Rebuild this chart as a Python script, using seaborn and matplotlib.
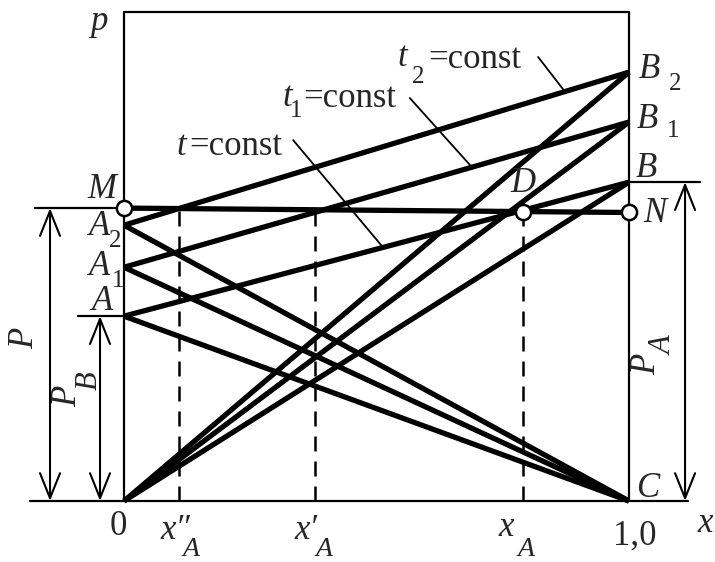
import matplotlib
matplotlib.use("Agg")
import matplotlib.pyplot as plt
import matplotlib.transforms as mtransforms
import pandas as pd
import seaborn as sns

# Pressure levels (fraction of frame height) on the pure-B side (x = 0)
# and on the pure-A side (x = 1) for the three temperatures t, t1, t2.
level_names = ["", "1", "2"]
p_left = [0.378, 0.478, 0.564]     # A, A1, A2
p_right = [0.652, 0.775, 0.877]    # B, B1, B2
# Total pressure line M-N and its crossing D
p_M, p_N = 0.599, 0.590
x_D = 0.790
# Compositions x''_A, x'_A, x_A marked on the x axis
x_marks = [0.109, 0.378, 0.790]
x_mark_names = ["x″", "x′", "x"]
p_top = 1.0


def on_mn(x):
    return p_M + (p_N - p_M) * x


def on_line(pa, pb, x):
    return pa + (pb - pa) * x


# ---- segment table for the bold lines ----
rows = []
for i, (pa, pb) in enumerate(zip(p_left, p_right)):
    rows += [("iso%d" % i, 0.0, pa), ("iso%d" % i, 1.0, pb)]
    rows += [("left%d" % i, 0.0, pa), ("left%d" % i, 1.0, 0.0)]
    rows += [("right%d" % i, 0.0, 0.0), ("right%d" % i, 1.0, pb)]
rows += [("MN", 0.0, p_M), ("MN", 1.0, p_N)]
segs = pd.DataFrame(rows, columns=["seg", "x", "p"])

sns.set_theme(style="white")
plt.rcParams["font.family"] = ["Liberation Serif", "DejaVu Serif"]

W, H = 715, 562
fig = plt.figure(figsize=(W / 100, H / 100), dpi=100)
ax = fig.add_axes([0, 0, 1, 1])
X0, X1, Y0, YT = 124, 629, 501, 12
sx, sy = X1 - X0, Y0 - YT
ax.set_xlim(-X0 / sx, (W - X0) / sx)
ax.set_ylim(-(H - Y0) / sy, Y0 / sy)
ax.axis("off")
pix = mtransforms.Affine2D().scale(1, -1).translate(0, H)

K = "black"
# frame and axis
ax.plot([0, 0, 1, 1], [0, p_top, p_top, 0], color=K, lw=1.6, zorder=2)
ax.plot([-0.186, 1.117], [0, 0], color=K, lw=1.6, zorder=2)
# extension lines for dimensions
ax.plot([-0.176, 0], [p_M, p_M], color=K, lw=1.6)
ax.plot([-0.091, 0], [p_left[0], p_left[0]], color=K, lw=1.6)
ax.plot([1, 1.141], [p_right[0], p_right[0]], color=K, lw=1.6)

arrow = dict(arrowstyle="<->,head_length=1.5,head_width=0.6", lw=1.5,
             color=K, shrinkA=0, shrinkB=0)
ax.annotate("", xy=(-0.1465, 0), xytext=(-0.1465, p_M), arrowprops=arrow)
ax.annotate("", xy=(-0.0475, 0), xytext=(-0.0475, p_left[0]), arrowprops=arrow)
ax.annotate("", xy=(1.111, 0), xytext=(1.111, p_right[0]), arrowprops=arrow)

# dashed composition lines
for xm in x_marks:
    ax.plot([xm, xm], [0, on_mn(xm)], color=K, lw=1.8, ls=(0, (6, 4)),
            zorder=2)

# bold lines
sns.lineplot(data=segs, x="x", y="p", units="seg", estimator=None, sort=False,
             color=K, linewidth=3.8, ax=ax, legend=False, zorder=3,
             solid_capstyle="butt")

# open circles M, D, N
sns.scatterplot(x=[0.0, x_D, 1.0], y=[p_M, on_mn(x_D), p_N], s=120,
                color="white", edgecolor=K, linewidth=1.8, zorder=6, ax=ax,
                legend=False)
ax.set_xlabel("")
ax.set_ylabel("")

# leader lines for the isotherm captions
leaders = [((0.335, 0.738), 0.513, 0), ((0.566, 0.824), 0.689, 1),
           ((0.820, 0.908), 0.873, 2)]
for (xs, ps), xe, i in leaders:
    ax.plot([xs, xe], [ps, on_line(p_left[i], p_right[i], xe)], color=K,
            lw=1.3, zorder=2)

BIG, SUB = 25, 18


def lab(s, xy, off, size=BIG, italic=True, ha="center"):
    ax.annotate(s, xy=xy, xytext=off, textcoords="offset pixels", ha=ha,
                va="baseline", fontsize=size,
                fontstyle="italic" if italic else "normal", zorder=7)


def ptext(s, x, y, size=BIG, italic=True, ha="left", va="baseline", rot=0):
    ax.text(x, y, s, transform=pix, ha=ha, va=va, fontsize=size, rotation=rot,
            fontstyle="italic" if italic else "normal", zorder=7)


# isotherm captions
ptext("t", 176, 155)
ptext("=const", 189, 155, italic=False)
ptext("t", 282, 106)
ptext(level_names[1], 290, 117, SUB, italic=False)
ptext("=const", 303, 107, italic=False)
ptext("t", 397, 66)
ptext(level_names[2], 412, 83, SUB, italic=False)
ptext("=const", 428, 68, italic=False)

# point labels
lab("M", (0, p_M), (-22, 10))
a_offs = [((-21, 6), None), ((-24, -8), (-6, -20)), ((-24, -10), (-9, -22))]
for i, (main, sub) in enumerate(a_offs):
    lab("A", (0, p_left[i]), main)
    if sub:
        lab(level_names[i], (0, p_left[i]), sub, SUB, italic=False)
b_offs = [((17, 5), None), ((18, -6), (44, -15)), ((20, -6), (46, -18))]
for i, (main, sub) in enumerate(b_offs):
    lab("B", (1, p_right[i]), main)
    if sub:
        lab(level_names[i], (1, p_right[i]), sub, SUB, italic=False)
lab("N", (1, p_N), (26, -10))
lab("D", (x_D, on_mn(x_D)), (0, 20))
lab("C", (1, 0), (19, 4))

# axis labels
lab("0", (0, 0), (-6, -34), italic=False)
lab("1,0", (1, 0), (6, -44), italic=False)
lab("x", (1, 0), (76, -31))
lab("p", (0, p_top), (-25, -18))
mark_offs = [((-19, -38), (12, -55)), ((-20, -38), (9, -55)),
             ((-25, -35), (3, -55))]
for xm, name, (mo, so) in zip(x_marks, x_mark_names, mark_offs):
    lab(name, (xm, 0), mo, ha="left")
    lab("A", (xm, 0), so, 20)

# dimension captions
ptext("P", 25, 338, ha="center", va="center", rot=90)
ptext("P", 68, 396, ha="center", va="center", rot=90)
ptext("B", 89, 381, 22, ha="center", va="center", rot=90)
ptext("P", 647, 364, ha="center", va="center", rot=90)
ptext("A", 664, 346, 22, ha="center", va="center", rot=90)

fig.savefig("out.png", dpi=100, facecolor="white")
